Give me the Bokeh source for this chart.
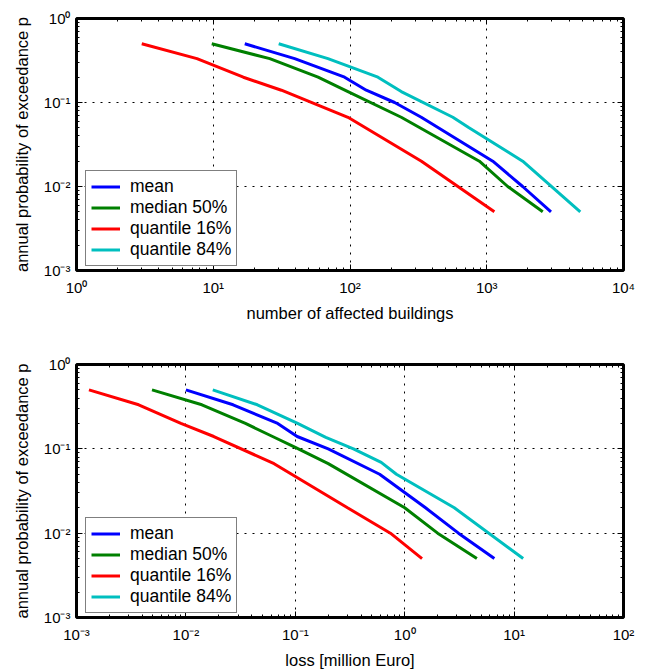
from bokeh.plotting import figure
from bokeh.models import LogAxis, FixedTicker, CustomJSTickFormatter, Legend, LegendItem
from bokeh.layouts import column
from bokeh.embed import file_html
from bokeh.resources import INLINE

# ---------------- data ----------------
series_names = ["mean", "median 50%", "quantile 16%", "quantile 84%"]
series_colors = ["#0000FF", "#008000", "#FF0000", "#00BFBF"]

# top: number of affected buildings
bld_mean_x = [17, 39.4, 91.3, 131.5, 212, 332, 1107, 1830, 2950]
bld_mean_y = [0.5, 0.333, 0.2, 0.14, 0.1, 0.0667, 0.02, 0.01, 0.005]
bld_median_x = [9.75, 25.9, 58.4, 96.6, 237, 883, 1423, 2568]
bld_median_y = [0.5, 0.333, 0.2, 0.135, 0.0667, 0.02, 0.01, 0.005]
bld_q16_x = [3.0, 7.6, 16.6, 31.5, 96.6, 333, 1137]
bld_q16_y = [0.5, 0.333, 0.2, 0.14, 0.0667, 0.02, 0.005]
bld_q84_x = [30.1, 69, 160, 237, 565, 742, 1832, 4830]
bld_q84_y = [0.5, 0.333, 0.2, 0.135, 0.0667, 0.05, 0.02, 0.005]

# bottom: loss [million Euro]
loss_mean_x = [0.01, 0.027, 0.069, 0.104, 0.2, 0.59, 1.55, 3.1, 6.6]
loss_mean_y = [0.5, 0.333, 0.2, 0.14, 0.1, 0.05, 0.02, 0.01, 0.005]
loss_median_x = [0.0049, 0.014, 0.035, 0.062, 0.1, 0.2, 1.0, 2.0, 4.57]
loss_median_y = [0.5, 0.333, 0.2, 0.14, 0.104, 0.0667, 0.02, 0.01, 0.005]
loss_q16_x = [0.0013, 0.0037, 0.009, 0.018, 0.064, 0.30, 0.74, 1.44]
loss_q16_y = [0.5, 0.333, 0.2, 0.14, 0.0667, 0.02, 0.01, 0.005]
loss_q84_x = [0.0176, 0.045, 0.105, 0.19, 0.34, 0.61, 0.84, 2.84, 12.1]
loss_q84_y = [0.5, 0.333, 0.2, 0.137, 0.1, 0.069, 0.05, 0.02, 0.005]

top_x_decades = [0, 1, 2, 3, 4]
bottom_x_decades = [-3, -2, -1, 0, 1, 2]
y_decades = [-3, -2, -1, 0]

y_label = "annual probability of exceedance p"
top_x_label = "number of affected buildings"
bottom_x_label = "loss [million Euro]"

FONT = "Liberation Sans"

fmt_code = r"""
const e = Math.round(Math.log10(tick));
const m = {'-':'\u207B','0':'\u2070','1':'\u00B9','2':'\u00B2','3':'\u00B3','4':'\u2074'};
return '10' + String(e).split('').map(c => m[c]).join('');
"""


def make_ticker(decades):
    majors = [10.0 ** d for d in decades]
    minors = [k * 10.0 ** d for d in decades[:-1] for k in range(2, 10)]
    return FixedTicker(ticks=majors, minor_ticks=minors)


def style_axis(ax, show_labels):
    ax.axis_line_color = None
    ax.major_tick_in = 6
    ax.major_tick_out = 0
    ax.minor_tick_in = 3
    ax.minor_tick_out = 0
    ax.major_tick_line_color = "black"
    ax.minor_tick_line_color = "black"
    if show_labels:
        ax.major_label_text_font = FONT
        ax.major_label_text_font_size = "15px"
        ax.major_label_text_color = "black"
        ax.axis_label_text_font = FONT
        ax.axis_label_text_font_size = "16.5px"
        ax.axis_label_text_font_style = "normal"
        ax.axis_label_text_color = "black"
    else:
        ax.major_label_text_font_size = "1px"
        ax.major_label_text_alpha = 0.0
        ax.major_label_standoff = 0


def make_panel(xs, ys, x_range, x_decades, x_label, border_top, border_bottom, frame_h):
    p = figure(x_axis_type="log", y_axis_type="log",
               x_range=x_range, y_range=(1e-3, 1.0),
               frame_width=547, frame_height=frame_h,
               min_border_left=76, min_border_right=14,
               min_border_top=border_top, min_border_bottom=border_bottom,
               output_backend="svg", toolbar_location=None,
               background_fill_color="white", border_fill_color="white")
    p.outline_line_color = "black"
    p.outline_line_width = 3
    p.outline_line_alpha = 1.0

    fmt = CustomJSTickFormatter(code=fmt_code)

    p.xaxis.ticker = make_ticker(x_decades)
    p.yaxis.ticker = make_ticker(y_decades)
    p.xaxis.formatter = fmt
    p.yaxis.formatter = fmt
    p.xaxis.axis_label = x_label
    p.yaxis.axis_label = y_label
    for ax in p.xaxis:
        style_axis(ax, True)
        ax.major_label_standoff = 8
        ax.axis_label_standoff = 5
    for ax in p.yaxis:
        style_axis(ax, True)
        ax.major_label_standoff = 6
        ax.axis_label_standoff = 10

    top_ax = LogAxis(ticker=make_ticker(x_decades))
    style_axis(top_ax, False)
    p.add_layout(top_ax, "above")
    right_ax = LogAxis(ticker=make_ticker(y_decades))
    style_axis(right_ax, False)
    p.add_layout(right_ax, "right")

    for g in (p.xgrid, p.ygrid):
        g.grid_line_color = "black"
        g.grid_line_dash = "2 6"
        g.grid_line_width = 1
        g.grid_line_alpha = 1.0

    items = []
    for x, y, name, col in zip(xs, ys, series_names, series_colors):
        r = p.line(x, y, line_color=col, line_width=3)
        items.append(LegendItem(label=name, renderers=[r]))

    leg = Legend(items=items, location=(9, 4), margin=0,
                 padding=5, spacing=-1,
                 label_text_font=FONT, label_text_font_size="17.5px",
                 label_text_color="black",
                 label_height=17, glyph_height=17, glyph_width=29,
                 label_standoff=10,
                 border_line_color="black", border_line_width=1.5,
                 background_fill_color="white", background_fill_alpha=1.0)
    p.add_layout(leg, "center")
    return p


p1 = make_panel([bld_mean_x, bld_median_x, bld_q16_x, bld_q84_x],
                [bld_mean_y, bld_median_y, bld_q16_y, bld_q84_y],
                (1, 1e4), top_x_decades, top_x_label, 18, 64, 252)
p2 = make_panel([loss_mean_x, loss_median_x, loss_q16_x, loss_q84_x],
                [loss_mean_y, loss_median_y, loss_q16_y, loss_q84_y],
                (1e-3, 1e2), bottom_x_decades, bottom_x_label, 30, 45, 253)

layout = column(p1, p2)
open("out.html", "w").write(file_html(layout, INLINE))
